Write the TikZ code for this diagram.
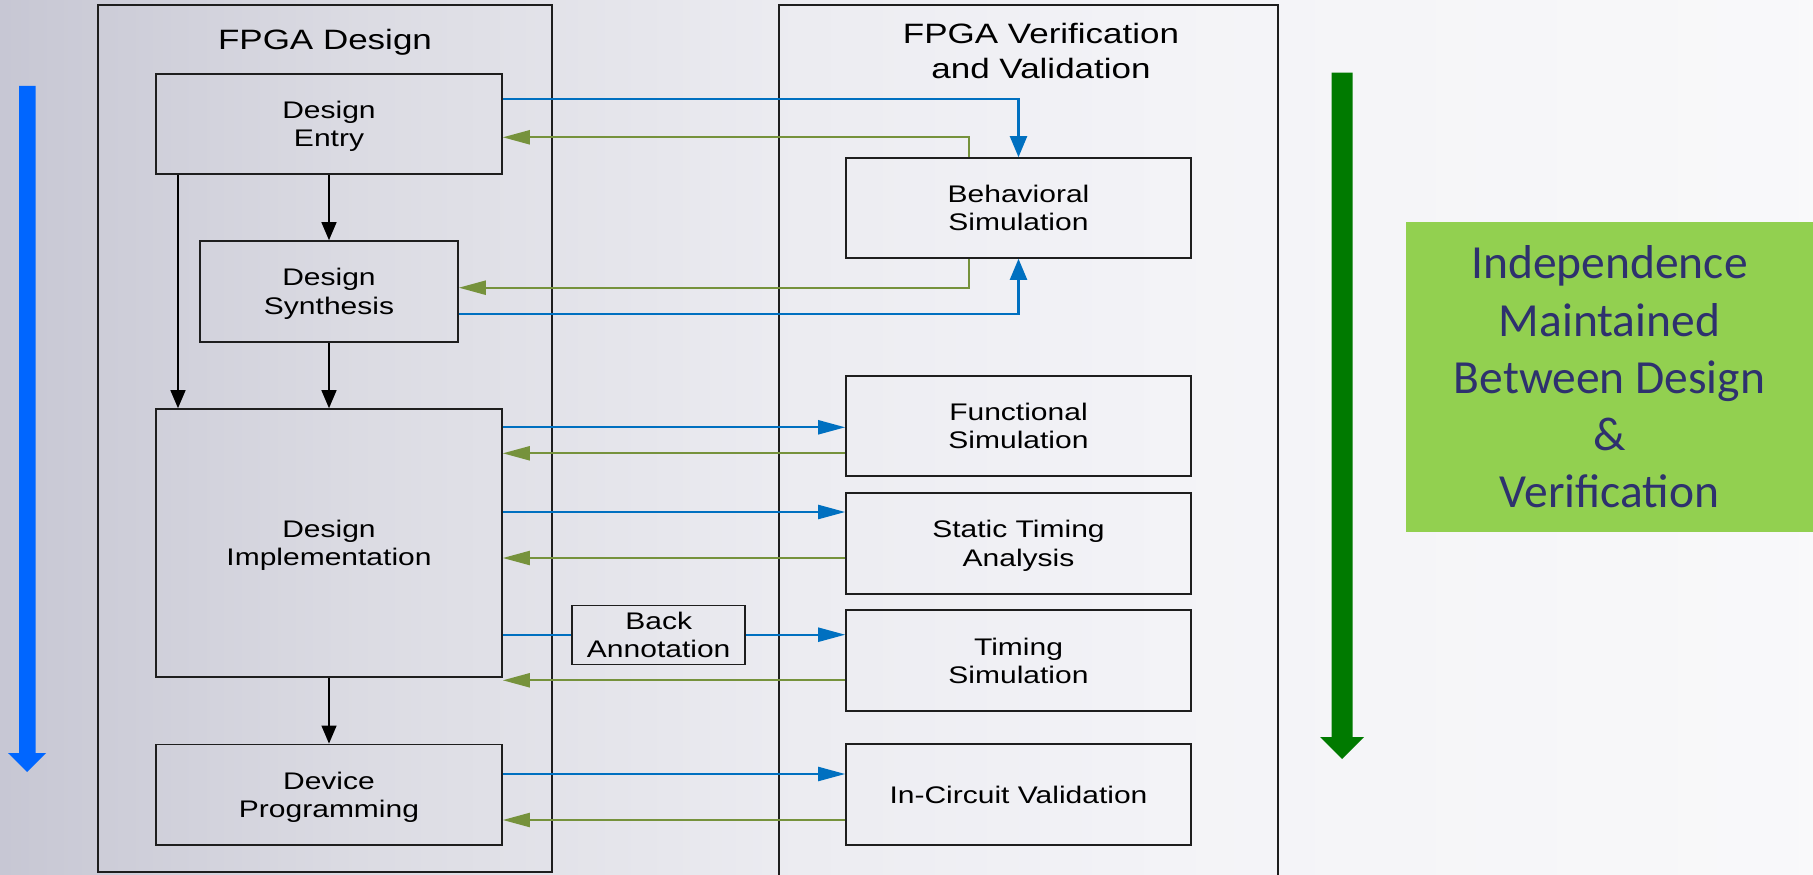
\documentclass[tikz,border=0pt]{standalone}
\usepackage{fontspec}
\usetikzlibrary{arrows.meta}
\newfontfamily\vis{Liberation Sans}[FakeStretch=1.25]
\newfontfamily\carl{Carlito}
\definecolor{lineblue}{RGB}{0,112,192}
\definecolor{lineolive}{RGB}{118,146,60}
\definecolor{barblue}{RGB}{0,102,255}
\definecolor{bargreen}{RGB}{0,122,0}
\definecolor{boxgreen}{RGB}{146,208,80}
\definecolor{navytext}{RGB}{46,49,110}
\definecolor{framecol}{RGB}{30,30,30}
\pgfdeclarehorizontalshading{bgshade}{100bp}{rgb(0bp)=(.78,.78,.83); rgb(25bp)=(.78,.78,.83); rgb(35bp)=(.86,.86,.89); rgb(47bp)=(.925,.925,.945); rgb(58bp)=(.955,.955,.97); rgb(75bp)=(.975,.975,.98); rgb(100bp)=(.975,.975,.98)}
\begin{document}
\begin{tikzpicture}[x=1pt,y=-1pt,
  pbox/.style={draw=framecol, line width=1.6pt, inner sep=0pt, align=center, text depth=0pt, font=\vis\fontsize{24}{28.5}\selectfont},
  dframe/.style={draw=framecol, line width=1.8pt},
  bline/.style={draw=lineblue, line width=2.2pt},
  gline/.style={draw=lineolive, line width=2.2pt},
  htip/.style={-{Triangle[length=27pt,width=14pt]}},
  vtip/.style={-{Triangle[length=21pt,width=17pt]}},
  karrow/.style={draw=black, line width=1.4pt, -{Triangle[length=18pt,width=15pt]}},
  ttl/.style={inner sep=0pt, align=center, font=\vis\fontsize{28}{34.3}\selectfont}
]
\useasboundingbox (0,0) rectangle (1813,875);
\shade[shading=bgshade] (0,0) rectangle (1813,875);

% frames
\draw[dframe] (98,5) rectangle (552,872);
\draw[dframe] (779,877) -- (779,5) -- (1278,5) -- (1278,877);
\node[ttl, anchor=base] (tdesign) at (325,49.3) {FPGA Design};
\node[ttl, anchor=north] (tverif) at (1041,23.5) {FPGA Verification\\and Validation};

% design column
\node[pbox, minimum width=346pt, minimum height=100pt] (entry) at (329,124) {Design\\Entry};
\node[pbox, minimum width=258pt, minimum height=101pt] (synth) at (329,291.5) {Design\\Synthesis};
\node[pbox, minimum width=346pt, minimum height=268pt] (impl) at (329,543) {Design\\Implementation};
\node[pbox, minimum width=346pt, minimum height=100.7pt] (prog) at (329,794.7) {Device\\Programming};

% verification column
\node[pbox, minimum width=345pt, minimum height=100pt] (beh) at (1018.5,208) {Behavioral\\Simulation};
\node[pbox, minimum width=345pt, minimum height=100pt] (func) at (1018.5,426) {Functional\\Simulation};
\node[pbox, minimum width=345pt, minimum height=101pt] (sta) at (1018.5,543.5) {Static Timing\\Analysis};
\node[pbox, minimum width=345pt, minimum height=101pt] (tsim) at (1018.5,660.7) {Timing\\Simulation};
\node[pbox, minimum width=345pt, minimum height=101pt] (icv) at (1018.5,794.7) {In-Circuit Validation};

\node[pbox, minimum width=173pt, minimum height=59pt] (back) at (658.7,634.8) {Back\\Annotation};

% black flow arrows
\draw[karrow] (entry.south) -- (synth.north);
\draw[karrow] (synth.south) -- (impl.north);
\draw[karrow] (entry.south -| 178,0) -- (impl.north -| 178,0);
\draw[karrow] (impl.south) -- (prog.north);

% behavioral simulation links
\draw[bline, vtip] (entry.east |- 0,99.3) -| (beh.north);
\draw[gline, htip] (beh.north -| 969,0) |- (entry.east |- 0,137.3);
\draw[gline, htip] (beh.south -| 969,0) |- (synth.east |- 0,287.7);
\draw[bline, vtip] (synth.east |- 0,314.3) -| (beh.south);

% functional
\draw[bline, htip] (impl.east |- 0,427.3) -- (func.west |- 0,427.3);
\draw[gline, htip] (func.west |- 0,453.3) -- (impl.east |- 0,453.3);
% static timing
\draw[bline, htip] (impl.east |- 0,512) -- (sta.west |- 0,512);
\draw[gline, htip] (sta.west |- 0,558) -- (impl.east |- 0,558);
% timing simulation
\draw[bline] (impl.east |- 0,634.7) -- (back.west |- 0,634.7);
\draw[bline, htip] (back.east |- 0,634.7) -- (tsim.west |- 0,634.7);
\draw[gline, htip] (tsim.west |- 0,680.3) -- (impl.east |- 0,680.3);
% in-circuit
\draw[bline, htip] (prog.east |- 0,774) -- (icv.west |- 0,774);
\draw[gline, htip] (icv.west |- 0,820) -- (prog.east |- 0,820);

% big side arrows
\fill[barblue] (19,86) -- (35.5,86) -- (35.5,753) -- (46,753) -- (27.2,772) -- (8,753) -- (19,753) -- cycle;
\fill[bargreen] (1331.5,72.6) -- (1352.7,72.6) -- (1352.7,737) -- (1364,737) -- (1342,759) -- (1320,737) -- (1331.5,737) -- cycle;

% independence box
\node[fill=boxgreen, minimum width=407pt, minimum height=310pt, inner sep=0pt, align=center,
      text=navytext, font=\carl\fontsize{47.5}{57.3}\selectfont] (indep) at (1609.5,377)
  {Independence\\Maintained\\Between Design\\\&\\Verification};
\end{tikzpicture}
\end{document}
